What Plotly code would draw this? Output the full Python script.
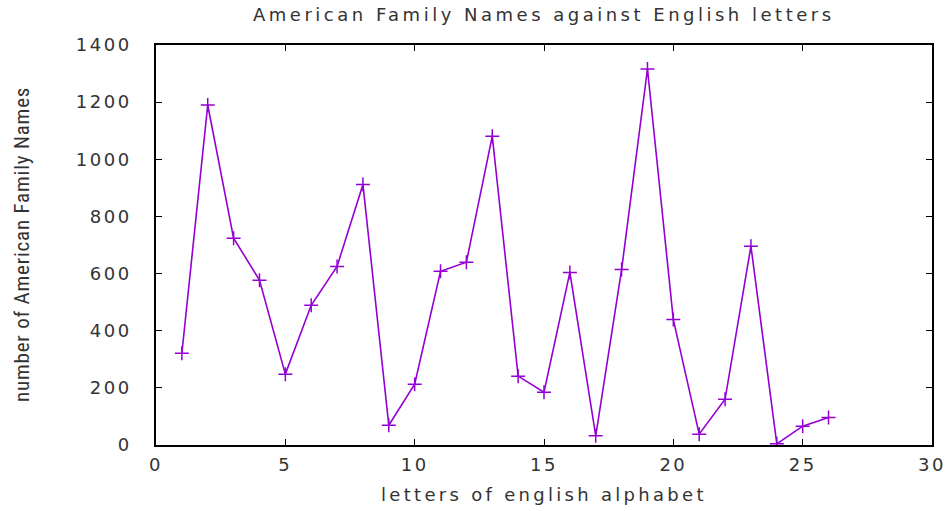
import plotly.graph_objects as go

letters_index = list(range(1, 27))
family_names = [321, 1190, 724, 577, 248, 489, 625, 912, 69, 213, 608, 640, 1081,
                241, 185, 604, 32, 614, 1316, 439, 38, 160, 696, 4, 66, 96]
x_ticks = [0, 5, 10, 15, 20, 25, 30]
y_ticks = [0, 200, 400, 600, 800, 1000, 1200, 1400]

title_text = "American Family Names against English letters"
x_title = "letters of english alphabet"
y_title = "number of American Family Names"

def spaced(s, px):
    return f'<span style="letter-spacing:{px}px">{s}</span>'

color = "#9400D3"
text_color = "#333333"
wide = "DejaVu Sans, Verdana, sans-serif"
narrow = "Liberation Sans Narrow, Roboto Condensed, Arial Narrow, sans-serif"

fig = go.Figure()
fig.add_trace(go.Scatter(
    x=letters_index, y=family_names, mode="lines+markers",
    line=dict(color=color, width=1.6),
    marker=dict(symbol="cross-thin", size=10, line=dict(color=color, width=1.5)),
    showlegend=False,
))

tickfont = dict(family=wide, size=18, color=text_color)
fig.update_layout(
    width=948, height=511,
    margin=dict(l=156, r=16, t=45, b=66),
    paper_bgcolor="white", plot_bgcolor="white",
    xaxis=dict(range=[0, 30], tickvals=x_ticks,
               ticktext=[spaced(str(v), 2.5) for v in x_ticks],
               ticks="inside", ticklen=6, automargin=False, ticklabelstandoff=3,
               showline=True, mirror="ticks", linecolor="black", linewidth=1.5,
               tickcolor="black", showgrid=False, zeroline=False,
               tickfont=tickfont),
    yaxis=dict(range=[0, 1400], tickvals=y_ticks,
               ticktext=[spaced(str(v), 2.5) for v in y_ticks],
               ticks="inside", ticklen=6, automargin=False, ticklabelstandoff=19,
               showline=True, mirror="ticks", linecolor="black", linewidth=1.5,
               tickcolor="black", showgrid=False, zeroline=False,
               tickfont=tickfont),
    annotations=[
        dict(text=spaced(title_text, 3.5), xref="paper", yref="paper",
             x=0.5, y=1, xanchor="center", yanchor="middle", yshift=31,
             showarrow=False, font=dict(family=wide, size=18, color=text_color)),
        dict(text=spaced(x_title, 3.3), xref="paper", yref="paper",
             x=0.5, y=0, xanchor="center", yanchor="middle", yshift=-49,
             showarrow=False, font=dict(family=wide, size=18, color=text_color)),
        dict(text=spaced(y_title, 0.8), xref="paper", yref="paper",
             x=0, y=0.5, xanchor="center", yanchor="middle", xshift=-134,
             textangle=-90, showarrow=False,
             font=dict(family=narrow, size=21, color=text_color)),
    ],
)
fig.write_html("out.html", config={"displayModeBar": False},
               post_script="document.body.style.margin='0';document.body.style.overflow='hidden';")
